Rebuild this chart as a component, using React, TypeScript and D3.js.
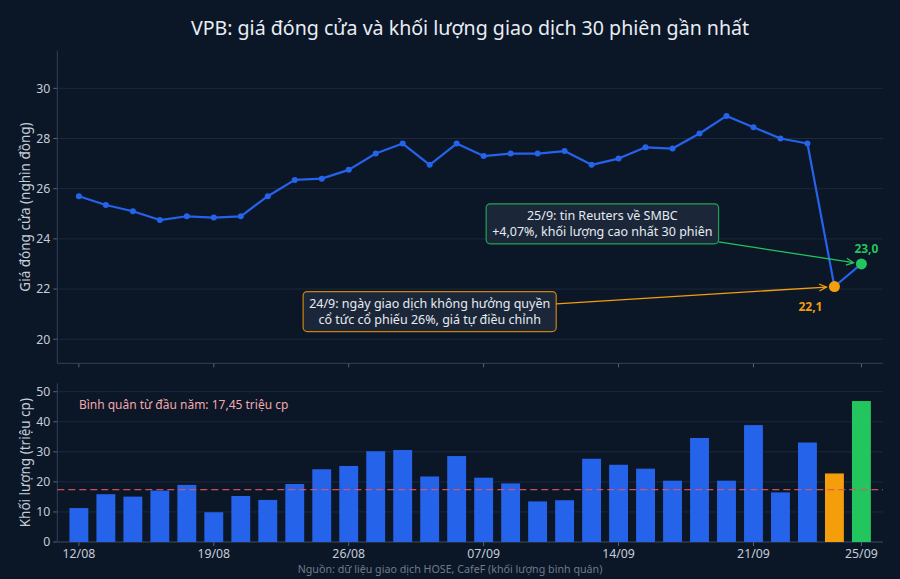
import { useEffect, useRef } from 'react';
import * as d3 from 'd3';

// 30 phiên gần nhất
const dates = [
  '12/08', '13/08', '14/08', '15/08', '18/08', '19/08', '20/08', '21/08', '22/08', '25/08',
  '26/08', '27/08', '28/08', '29/08', '04/09', '07/09', '08/09', '09/09', '10/09', '11/09',
  '14/09', '15/09', '16/09', '17/09', '18/09', '21/09', '22/09', '23/09', '24/09', '25/09',
];
const closePrices = [
  25.7, 25.35, 25.1, 24.75, 24.9, 24.85, 24.9, 25.7, 26.35, 26.4,
  26.75, 27.4, 27.8, 26.95, 27.8, 27.3, 27.4, 27.4, 27.5, 26.95,
  27.2, 27.65, 27.6, 28.2, 28.9, 28.45, 28.0, 27.8, 22.1, 23.0,
];
const volumes = [
  11.3, 15.9, 15.1, 17.1, 19.0, 9.9, 15.3, 14.0, 19.3, 24.2,
  25.3, 30.2, 30.6, 21.8, 28.6, 21.4, 19.5, 13.5, 13.9, 27.7,
  25.7, 24.4, 20.4, 34.6, 20.4, 38.9, 16.5, 33.1, 22.8, 46.9,
];
const tickIndices = [0, 5, 10, 15, 20, 25, 29];
const priceTicks = [20, 22, 24, 26, 28, 30];
const volumeTicks = [0, 10, 20, 30, 40, 50];
const avgVolume = 17.45;

const BLUE = '#2563eb';
const ORANGE = '#f59e0b';
const GREEN = '#22c55e';

const annotations = [
  {
    idx: 28,
    lines: ['24/9: ngày giao dịch không hưởng quyền', 'cổ tức cổ phiếu 26%, giá tự điều chỉnh'],
    textX: 13,
    textY: 21.1,
    color: ORANGE,
    label: '22,1',
    labelDx: -24,
    labelDy: 20,
  },
  {
    idx: 29,
    lines: ['25/9: tin Reuters về SMBC', '+4,07%, khối lượng cao nhất 30 phiên'],
    textX: 19.4,
    textY: 24.6,
    color: GREEN,
    label: '23,0',
    labelDx: 5,
    labelDy: -15,
  },
];

export default function App() {
  const svgRef = useRef<SVGSVGElement>(null);

  useEffect(() => {
    if (!svgRef.current) return;
    const svg = d3.select(svgRef.current);
    svg.selectAll('*').remove();

    const W = 900;
    const H = 579;
    const font = '"Noto Sans", "Open Sans", sans-serif';
    const tickColor = '#c5cdd8';
    const gridColor = '#1c2a3d';
    const spineColor = '#344257';

    svg.append('rect').attr('width', W).attr('height', H).attr('fill', '#0b1627');

    // scales
    const x = d3.scaleLinear().domain([-0.8, 29.8]).range([57.3, 883]);
    const yPrice = d3.scaleLinear().domain([19.04, 31.5]).range([363.3, 50.7]);
    const yVol = d3.scaleLinear().domain([0, 52.8]).range([542, 383.3]);
    const [x0, x1] = x.range();

    // title
    svg.append('text')
      .attr('x', 470).attr('y', 34.5)
      .attr('text-anchor', 'middle')
      .attr('font-family', font).attr('font-size', 19.6)
      .attr('fill', '#e8edf4')
      .text('VPB: giá đóng cửa và khối lượng giao dịch 30 phiên gần nhất');

    // --- panel helper: grid, spines, ticks
    const drawFrame = (
      y: d3.ScaleLinear<number, number>,
      ticks: number[],
      label: string,
      showXLabels: boolean,
    ) => {
      const g = svg.append('g');
      const [yb, yt] = y.range();
      ticks.forEach((t) => {
        g.append('line')
          .attr('x1', x0).attr('x2', x1)
          .attr('y1', y(t)).attr('y2', y(t))
          .attr('stroke', gridColor).attr('stroke-width', 1);
        g.append('line')
          .attr('x1', x0 - 4).attr('x2', x0)
          .attr('y1', y(t)).attr('y2', y(t))
          .attr('stroke', '#6b7a90').attr('stroke-width', 0.8);
        g.append('text')
          .attr('x', x0 - 7).attr('y', y(t)).attr('dy', '0.35em')
          .attr('text-anchor', 'end')
          .attr('font-family', font).attr('font-size', 12.3)
          .attr('fill', tickColor)
          .text(t);
      });
      tickIndices.forEach((i) => {
        g.append('line')
          .attr('x1', x(i)).attr('x2', x(i))
          .attr('y1', yb).attr('y2', yb + 4)
          .attr('stroke', '#6b7a90').attr('stroke-width', 0.8);
        if (showXLabels) {
          g.append('text')
            .attr('x', x(i)).attr('y', yb + 16)
            .attr('text-anchor', 'middle')
            .attr('font-family', font).attr('font-size', 12.3)
            .attr('fill', tickColor)
            .text(dates[i]);
        }
      });
      g.append('line')
        .attr('x1', x0).attr('x2', x0).attr('y1', yt).attr('y2', yb)
        .attr('stroke', spineColor).attr('stroke-width', 1);
      g.append('line')
        .attr('x1', x0).attr('x2', x1).attr('y1', yb).attr('y2', yb)
        .attr('stroke', spineColor).attr('stroke-width', 1);
      g.append('text')
        .attr('transform', `translate(25,${(yb + yt) / 2}) rotate(-90)`)
        .attr('text-anchor', 'middle').attr('dy', '0.35em')
        .attr('font-family', font).attr('font-size', 13.5)
        .attr('fill', tickColor)
        .text(label);
    };

    drawFrame(yPrice, priceTicks, 'Giá đóng cửa (nghìn đồng)', false);
    drawFrame(yVol, volumeTicks, 'Khối lượng (triệu cp)', true);

    // --- price line
    const line = d3.line<number>()
      .x((_, i) => x(i))
      .y((d) => yPrice(d));
    svg.append('path')
      .datum(closePrices)
      .attr('d', line)
      .attr('fill', 'none')
      .attr('stroke', BLUE)
      .attr('stroke-width', 2.2)
      .attr('stroke-linejoin', 'round');
    svg.append('g')
      .selectAll('circle')
      .data(closePrices.slice(0, 28))
      .join('circle')
      .attr('cx', (_, i) => x(i))
      .attr('cy', (d) => yPrice(d))
      .attr('r', 3)
      .attr('fill', BLUE);

    // --- volume bars
    const bw = x(0.35) - x(0);
    svg.append('g')
      .selectAll('rect')
      .data(volumes)
      .join('rect')
      .attr('x', (_, i) => x(i) - bw)
      .attr('width', bw * 2)
      .attr('y', (d) => yVol(d))
      .attr('height', (d) => yVol(0) - yVol(d))
      .attr('fill', (_, i) => (i === 28 ? ORANGE : i === 29 ? GREEN : BLUE));

    // average line
    svg.append('line')
      .attr('x1', x0).attr('x2', x1)
      .attr('y1', yVol(avgVolume)).attr('y2', yVol(avgVolume))
      .attr('stroke', '#e2545f').attr('stroke-opacity', 0.9)
      .attr('stroke-width', 1.2)
      .attr('stroke-dasharray', '7,4');
    svg.append('text')
      .attr('x', x(0)).attr('y', yVol(44.3))
      .attr('font-family', font).attr('font-size', 12)
      .attr('fill', '#f2a9ad')
      .text('Bình quân từ đầu năm: 17,45 triệu cp');

    // --- annotations
    annotations.forEach((a) => {
      const px = x(a.idx);
      const py = yPrice(closePrices[a.idx]);
      const cx = x(a.textX);
      const cy = yPrice(a.textY);
      const lh = 16;

      const g = svg.append('g');
      const rect = g.append('rect');
      const txt = g.append('text')
        .attr('font-family', font).attr('font-size', 12.5)
        .attr('fill', '#e6ebf2')
        .attr('text-anchor', 'middle');
      a.lines.forEach((l, k) => {
        txt.append('tspan')
          .attr('x', cx)
          .attr('y', cy + (k - (a.lines.length - 1) / 2) * lh)
          .attr('dy', '0.35em')
          .text(l);
      });
      const bb = (txt.node() as SVGTextElement).getBBox();
      const padX = 6;
      const padY = 4;
      const rx0 = bb.x - padX;
      const ry0 = cy - (a.lines.length * lh) / 2 - padY;
      const rw = bb.width + padX * 2;
      const rh = a.lines.length * lh + padY * 2;
      rect.attr('x', rx0).attr('y', ry0)
        .attr('width', rw).attr('height', rh)
        .attr('rx', 4)
        .attr('fill', '#1b2738')
        .attr('stroke', a.color).attr('stroke-opacity', 0.8)
        .attr('stroke-width', 1.2);

      // arrow from box edge to point
      const dx = px - cx;
      const dy = py - cy;
      const tx = Math.abs(dx) > 0 ? (rw / 2) / Math.abs(dx) : Infinity;
      const ty = Math.abs(dy) > 0 ? (rh / 2) / Math.abs(dy) : Infinity;
      const t0 = Math.min(tx, ty);
      const sx = cx + dx * t0;
      const sy = cy + dy * t0;
      const len = Math.hypot(px - sx, py - sy);
      const ux = (px - sx) / len;
      const uy = (py - sy) / len;
      const ex = px - ux * 8;
      const ey = py - uy * 8;
      svg.append('line')
        .attr('x1', sx).attr('y1', sy).attr('x2', ex).attr('y2', ey)
        .attr('stroke', a.color).attr('stroke-width', 1.3);
      const ang = Math.atan2(uy, ux);
      const hl = 8;
      const spread = 0.45;
      const head = [
        [ex - hl * Math.cos(ang - spread), ey - hl * Math.sin(ang - spread)],
        [ex, ey],
        [ex - hl * Math.cos(ang + spread), ey - hl * Math.sin(ang + spread)],
      ];
      svg.append('path')
        .attr('d', d3.line()(head as [number, number][]))
        .attr('fill', 'none')
        .attr('stroke', a.color).attr('stroke-width', 1.3);

      // marker + value label
      svg.append('circle')
        .attr('cx', px).attr('cy', py).attr('r', 5.5)
        .attr('fill', a.color);
      svg.append('text')
        .attr('x', px + a.labelDx).attr('y', py + a.labelDy).attr('dy', '0.35em')
        .attr('text-anchor', 'middle')
        .attr('font-family', font).attr('font-size', 12).attr('font-weight', 'bold')
        .attr('fill', a.color)
        .text(a.label);
    });

    // source
    svg.append('text')
      .attr('x', 450).attr('y', 569).attr('dy', '0.35em')
      .attr('text-anchor', 'middle')
      .attr('font-family', font).attr('font-size', 10.7)
      .attr('fill', '#6f7b8c')
      .text('Nguồn: dữ liệu giao dịch HOSE, CafeF (khối lượng bình quân)');
  }, []);

  return (
    <svg
      ref={svgRef}
      width={900}
      height={579}
      style={{ position: 'absolute', left: 0, top: 0, display: 'block' }}
    />
  );
}
